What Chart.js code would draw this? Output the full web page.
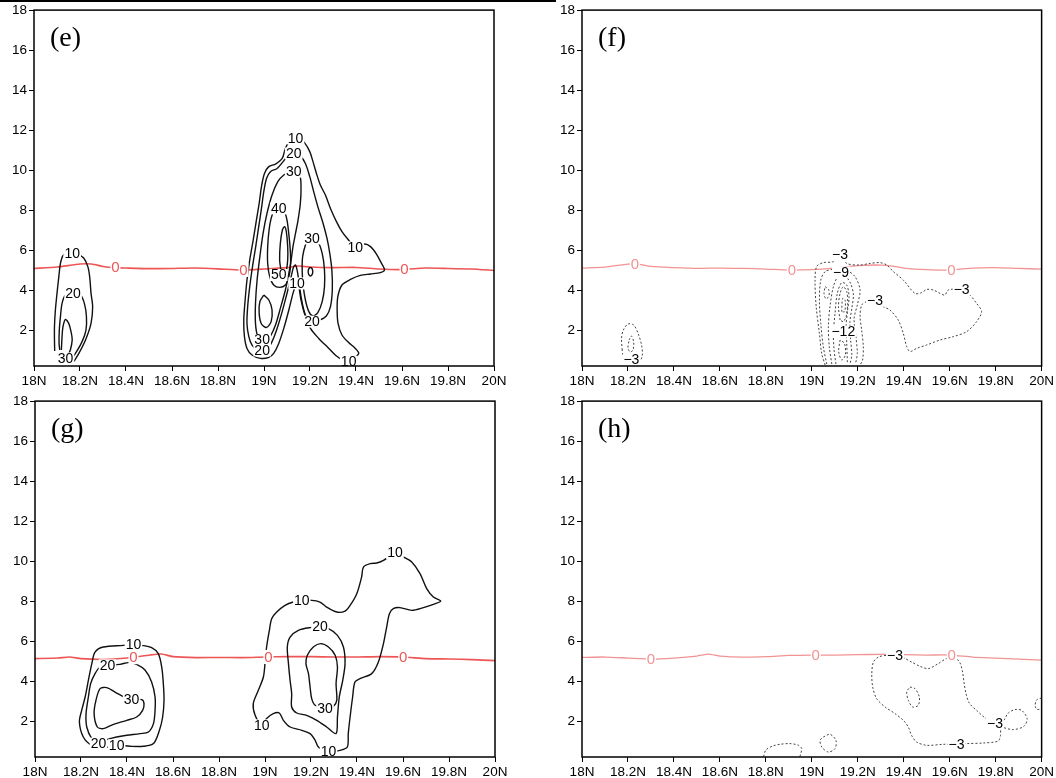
<!DOCTYPE html>
<html>
<head>
<meta charset="utf-8">
<script src="https://cdn.jsdelivr.net/npm/chart.js@4.4.1/dist/chart.umd.min.js"></script>
<style>
  html, body { margin: 0; padding: 0; background: #fff; width: 1056px; height: 778px; overflow: hidden; }
  .panel { position: absolute; }
  #topbar { position: absolute; left: 0; top: 0; width: 556px; height: 2px; background: #000; }
</style>
</head>
<body>
<div id="topbar"></div>
<div class="panel" style="left:0px;top:0px;"><canvas id="pe" width="520" height="400"></canvas></div>
<div class="panel" style="left:548px;top:0px;"><canvas id="pf" width="508" height="400"></canvas></div>
<div class="panel" style="left:1px;top:391px;"><canvas id="pg" width="520" height="387"></canvas></div>
<div class="panel" style="left:548px;top:391px;"><canvas id="ph" width="508" height="387"></canvas></div>
<script>
// ---------- axes ----------
const yTicks = [2, 4, 6, 8, 10, 12, 14, 16, 18];
const xTicks = [18, 18.2, 18.4, 18.6, 18.8, 19, 19.2, 19.4, 19.6, 19.8, 20];
const xTickLabels = ['18N', '18.2N', '18.4N', '18.6N', '18.8N', '19N', '19.2N', '19.4N', '19.6N', '19.8N', '20N'];
const heightRange = [0.2, 18];
const latRange = [18, 20];

// ---------- panel (e): positive contours (lat, height km) ----------
const eLeft10 = [[18.090,0.95],[18.089,1.5],[18.089,2.17],[18.093,3.0],[18.100,3.83],[18.108,4.67],[18.115,5.33],[18.126,5.72],[18.145,5.85],[18.166,5.83],[18.19,5.8],[18.216,5.6],[18.234,5.17],[18.242,4.67],[18.248,3.83],[18.255,3.17],[18.248,2.33],[18.224,1.5],[18.195,0.83],[18.173,0.42]];
const eLeft20 = [[18.112,1.0],[18.109,1.33],[18.11,2.0],[18.115,2.67],[18.122,3.33],[18.137,3.75],[18.17,3.83],[18.202,3.75],[18.219,3.33],[18.228,2.67],[18.226,2.0],[18.209,1.42],[18.18,0.83],[18.158,0.5]];
const eLeft30 = [[18.119,1.0],[18.122,1.67],[18.126,2.17],[18.137,2.53],[18.151,2.33],[18.161,1.92],[18.166,1.5],[18.158,1.0],[18.148,0.75]];
const eMain10 = [[19.390,0.58],[19.412,0.83],[19.397,1.08],[19.368,1.37],[19.339,1.75],[19.322,2.33],[19.318,3.0],[19.321,3.67],[19.339,4.25],[19.376,4.53],[19.419,4.73],[19.463,4.8],[19.506,4.87],[19.524,5.0],[19.509,5.37],[19.489,5.8],[19.463,6.17],[19.437,6.3],[19.397,6.13],[19.364,6.55],[19.339,6.92],[19.315,7.42],[19.289,8.08],[19.267,8.75],[19.245,9.25],[19.228,9.83],[19.213,10.42],[19.199,10.92],[19.176,11.37],[19.158,11.53],[19.137,11.58],[19.112,11.47],[19.093,11.08],[19.079,10.58],[19.050,10.3],[19.021,10.17],[19.002,9.83],[18.989,9.17],[18.979,8.33],[18.967,7.5],[18.953,6.5],[18.938,5.5],[18.926,4.5],[18.918,3.5],[18.912,2.5],[18.915,1.67],[18.926,1.08],[18.948,0.75],[18.984,0.58],[19.021,0.63],[19.042,0.83],[19.064,1.33],[19.086,2.08],[19.108,3.0],[19.126,3.83],[19.138,4.25],[19.144,4.33],[19.151,4.17],[19.161,3.5],[19.176,2.83],[19.202,2.08],[19.238,1.58],[19.282,1.08],[19.315,0.7],[19.347,0.47],[19.368,0.42],[19.390,0.58]];
const eMain20 = [[19.209,2.42],[19.242,2.5],[19.271,2.7],[19.289,3.17],[19.297,4.0],[19.295,5.0],[19.286,5.83],[19.274,6.58],[19.257,7.33],[19.234,8.17],[19.216,8.92],[19.199,9.67],[19.180,10.33],[19.158,10.7],[19.129,10.83],[19.103,10.7],[19.083,10.42],[19.057,10.08],[19.028,9.92],[19.011,9.58],[18.999,8.92],[18.989,8.08],[18.977,7.17],[18.964,6.17],[18.950,5.17],[18.938,4.17],[18.929,3.17],[18.926,2.33],[18.934,1.67],[18.948,1.25],[18.970,1.03],[18.992,1.0],[19.016,1.08],[19.035,1.42],[19.057,2.08],[19.079,2.92],[19.100,3.83],[19.118,4.67],[19.129,5.17],[19.137,5.25],[19.144,5.0],[19.153,4.33],[19.161,3.67],[19.173,3.0],[19.187,2.58],[19.209,2.42]];
const eMain30a = [[19.129,9.92],[19.155,9.75],[19.161,9.17],[19.158,8.33],[19.148,7.5],[19.137,6.83],[19.126,6.17],[19.118,5.5],[19.108,4.83],[19.093,4.0],[19.071,3.08],[19.050,2.25],[19.028,1.7],[19.011,1.53],[18.992,1.5],[18.973,1.67],[18.963,2.33],[18.963,3.33],[18.970,4.5],[18.982,5.67],[18.996,6.83],[19.013,7.83],[19.035,8.75],[19.060,9.42],[19.086,9.75],[19.108,9.87],[19.129,9.92]];
const eMain30b = [[19.209,6.58],[19.234,6.42],[19.253,5.83],[19.263,5.0],[19.263,4.17],[19.253,3.42],[19.234,2.87],[19.213,2.7],[19.195,2.92],[19.180,3.5],[19.170,4.25],[19.166,5.0],[19.168,5.67],[19.180,6.25],[19.190,6.47],[19.209,6.58]];
const eMain40a = [[19.064,8.08],[19.086,8.0],[19.100,7.5],[19.109,6.67],[19.115,5.83],[19.115,5.17],[19.108,4.67],[19.093,4.25],[19.068,4.13],[19.042,4.25],[19.025,4.67],[19.016,5.33],[19.016,6.17],[19.022,7.0],[19.031,7.58],[19.042,7.92],[19.064,8.08]];
const eMain40b = [[18.999,3.75],[19.021,3.5],[19.035,3.0],[19.031,2.42],[19.011,2.13],[18.989,2.3],[18.979,2.83],[18.982,3.42],[18.999,3.75]];
const eMain40c = [[19.202,5.14],[19.209,5.07],[19.212,4.92],[19.209,4.77],[19.202,4.70],[19.195,4.77],[19.192,4.92],[19.195,5.07],[19.202,5.14]];
const eMain50 = [[19.074,4.97],[19.068,5.5],[19.071,6.33],[19.080,7.0],[19.089,7.17],[19.097,6.92],[19.103,6.17],[19.103,5.5],[19.097,5.0],[19.086,4.83],[19.074,4.97]];
const eLabels = [[18.166,5.83,'10'],[18.17,3.83,'20'],[18.137,0.58,'30'],[19.137,11.58,'10'],[19.129,10.83,'20'],[19.129,9.92,'30'],[19.064,8.08,'40'],[19.064,4.75,'50'],[19.144,4.33,'10'],[19.209,6.58,'30'],[19.397,6.13,'10'],[18.992,1.5,'30'],[18.992,0.98,'20'],[19.209,2.42,'20'],[19.368,0.42,'10']];
const eZeroLine = [[18.0,5.08],[18.1,5.15],[18.2,5.3],[18.25,5.3],[18.3,5.18],[18.35,5.12],[18.4,5.1],[18.5,5.07],[18.6,5.08],[18.7,5.1],[18.8,5.06],[18.9,5.0],[19.0,5.05],[19.1,5.12],[19.15,5.2],[19.2,5.15],[19.3,5.12],[19.4,5.13],[19.5,5.05],[19.6,5.02],[19.7,5.1],[19.8,5.08],[19.9,5.05],[20.0,4.98]];
const eZeroLabels = [18.354, 18.911, 19.611];

// ---------- panel (f): negative contours ----------
const fLeft3 = [[18.175,1.0],[18.172,1.6],[18.18,2.0],[18.2,2.3],[18.225,2.25],[18.245,1.8],[18.26,1.2],[18.262,0.7],[18.25,0.45],[18.215,0.5],[18.19,0.5],[18.178,0.75],[18.175,1.0]];
const fLeft6 = [[18.205,1.5],[18.215,1.7],[18.225,1.4],[18.222,1.0],[18.21,0.9],[18.2,1.1],[18.205,1.5]];
const fMain3 = [[19.058,0.25],[19.043,0.83],[19.033,1.83],[19.019,3.17],[19.014,4.5],[19.021,5.17],[19.050,5.37],[19.094,5.42],[19.123,5.75],[19.152,5.33],[19.210,5.25],[19.253,5.33],[19.297,5.37],[19.326,5.25],[19.355,4.92],[19.398,4.5],[19.449,3.83],[19.478,3.87],[19.500,4.03],[19.529,4.0],[19.558,3.83],[19.579,3.75],[19.594,4.0],[19.652,4.03],[19.688,3.75],[19.717,3.33],[19.739,2.92],[19.717,2.42],[19.674,1.92],[19.616,1.67],[19.558,1.5],[19.500,1.25],[19.456,1.08],[19.427,0.92],[19.413,1.17],[19.398,1.83],[19.376,2.5],[19.340,3.0],[19.311,3.17],[19.275,3.47],[19.239,3.42],[19.217,3.25],[19.210,2.67],[19.217,2.0],[19.224,1.17],[19.221,0.5],[19.210,0.25]];
const fMain6 = [[19.065,0.3],[19.050,1.17],[19.039,2.33],[19.033,3.5],[19.039,4.5],[19.058,4.92],[19.094,5.03],[19.152,4.97],[19.188,4.67],[19.210,4.0],[19.198,3.25],[19.184,2.58],[19.192,1.67],[19.198,0.83],[19.190,0.3]];
const fMain9 = [[19.087,0.3],[19.076,1.17],[19.072,2.17],[19.079,3.17],[19.094,4.17],[19.116,4.7],[19.145,4.7],[19.169,4.33],[19.181,3.75],[19.174,3.08],[19.166,2.42],[19.169,1.5],[19.174,0.75],[19.166,0.3]];
const fMain12 = [[19.105,0.3],[19.097,1.0],[19.094,1.83],[19.101,2.83],[19.111,3.83],[19.130,4.37],[19.152,4.25],[19.162,3.67],[19.155,2.92],[19.149,2.17],[19.152,1.33],[19.155,0.3]];
const fMain15 = [[19.123,2.5],[19.116,3.17],[19.123,3.83],[19.137,4.17],[19.152,3.92],[19.156,3.33],[19.149,2.67],[19.137,2.42],[19.123,2.5]];
const fMain18 = [[19.13,2.92],[19.134,3.58],[19.145,3.5],[19.143,2.92],[19.13,2.92]];
const fLoopA = [[19.058,4.17],[19.074,4.0],[19.074,3.67],[19.061,3.57],[19.053,3.83],[19.058,4.17]];
const fLoopB = [[19.123,1.5],[19.117,0.92],[19.130,0.5],[19.146,0.75],[19.142,1.33],[19.123,1.5]];
const fLabels = [[19.123,5.75,'\u22123'],[19.127,4.88,'\u22129'],[19.275,3.47,'\u22123'],[19.652,4.03,'\u22123'],[19.137,1.92,'\u221212'],[18.215,0.5,'\u22123']];
const fZeroLine = [[18.0,5.1],[18.1,5.15],[18.2,5.3],[18.25,5.28],[18.3,5.18],[18.4,5.12],[18.5,5.08],[18.6,5.1],[18.7,5.08],[18.8,5.05],[18.9,5.0],[19.0,5.02],[19.1,5.1],[19.2,5.22],[19.3,5.25],[19.35,5.2],[19.4,5.1],[19.5,5.02],[19.6,5.0],[19.7,5.1],[19.8,5.12],[19.9,5.08],[20.0,5.05]];
const fZeroLabels = [18.23, 18.913, 19.608];

// ---------- panel (g): positive contours ----------
const gLeft10 = [[18.428,5.835],[18.464,5.785],[18.507,5.67],[18.536,5.37],[18.551,4.70],[18.558,3.87],[18.561,3.035],[18.555,2.2],[18.541,1.535],[18.515,0.87],[18.471,0.735],[18.413,0.735],[18.355,0.785],[18.305,0.67],[18.247,0.785],[18.210,1.20],[18.193,1.95],[18.203,2.535],[18.218,3.2],[18.232,4.035],[18.247,4.87],[18.261,5.45],[18.297,5.70],[18.384,5.785],[18.428,5.835]];
const gLeft20 = [[18.315,4.785],[18.370,4.835],[18.406,4.92],[18.442,4.835],[18.479,4.535],[18.507,3.95],[18.522,3.2],[18.522,2.535],[18.515,1.87],[18.493,1.45],[18.457,1.37],[18.399,1.285],[18.355,1.20],[18.312,1.07],[18.276,0.87],[18.247,1.12],[18.225,1.70],[18.222,2.37],[18.232,3.2],[18.242,3.87],[18.261,4.37],[18.283,4.70],[18.315,4.785]];
const gLeft30 = [[18.42,3.07],[18.392,3.17],[18.355,3.4],[18.312,3.67],[18.283,3.62],[18.265,3.035],[18.257,2.37],[18.271,1.70],[18.297,1.62],[18.341,1.835],[18.399,2.035],[18.442,2.2],[18.468,2.535],[18.474,2.87],[18.464,3.07],[18.42,3.07]];
const gRight10 = [[19.565,10.40],[19.602,10.20],[19.638,9.95],[19.674,9.37],[19.703,8.62],[19.732,8.2],[19.764,8.0],[19.732,7.835],[19.689,7.67],[19.638,7.535],[19.587,7.67],[19.558,7.62],[19.541,7.37],[19.529,6.70],[19.515,5.87],[19.493,4.95],[19.464,4.37],[19.413,4.12],[19.391,3.95],[19.381,3.2],[19.370,2.2],[19.362,1.37],[19.358,0.70],[19.326,0.535],[19.276,0.45],[19.232,0.70],[19.218,1.035],[19.196,1.37],[19.160,1.535],[19.109,1.70],[19.080,2.035],[19.062,2.4],[19.036,2.37],[19.007,2.12],[18.986,1.785],[18.957,2.285],[18.949,2.87],[18.971,3.535],[18.993,4.2],[19.0,4.87],[19.007,5.70],[19.019,6.535],[19.029,7.12],[19.051,7.45],[19.087,7.785],[19.123,7.95],[19.16,8.0],[19.203,8.035],[19.239,7.95],[19.268,7.70],[19.312,7.45],[19.348,7.5],[19.370,7.785],[19.399,8.37],[19.420,9.2],[19.428,9.70],[19.457,9.87],[19.486,9.9],[19.515,10.035],[19.565,10.40]];
const gRight20 = [[19.239,6.70],[19.276,6.62],[19.315,6.285],[19.341,5.70],[19.348,4.87],[19.338,4.035],[19.323,3.2],[19.315,2.2],[19.309,1.37],[19.268,1.70],[19.225,2.035],[19.181,2.285],[19.138,2.4],[19.116,2.70],[19.116,3.37],[19.109,4.035],[19.102,4.87],[19.097,5.70],[19.109,6.2],[19.145,6.535],[19.196,6.67],[19.239,6.70]];
const gRight30 = [[19.261,2.62],[19.297,2.735],[19.312,3.035],[19.309,3.87],[19.315,4.70],[19.305,5.285],[19.276,5.70],[19.242,5.87],[19.210,5.70],[19.184,5.285],[19.178,4.87],[19.189,4.37],[19.196,3.70],[19.203,3.12],[19.218,2.785],[19.261,2.62]];
const gLabels = [[18.428,5.835,'10'],[18.315,4.785,'20'],[18.42,3.07,'30'],[18.276,0.87,'20'],[18.355,0.785,'10'],[19.565,10.40,'10'],[19.16,8.0,'10'],[19.239,6.70,'20'],[19.261,2.62,'30'],[18.986,1.785,'10'],[19.276,0.45,'10']];
const gZeroLine = [[18.0,5.12],[18.1,5.15],[18.15,5.2],[18.2,5.12],[18.3,5.08],[18.4,5.15],[18.5,5.3],[18.55,5.35],[18.6,5.22],[18.7,5.17],[18.8,5.18],[18.9,5.17],[19.0,5.2],[19.1,5.22],[19.2,5.22],[19.3,5.2],[19.4,5.2],[19.5,5.22],[19.6,5.2],[19.7,5.12],[19.8,5.1],[19.9,5.07],[20.0,5.02]];
const gZeroLabels = [18.428, 19.015, 19.601];

// ---------- panel (h): negative contours ----------
const hMain3 = [[19.362,5.285],[19.398,5.17],[19.434,4.95],[19.471,4.735],[19.507,4.62],[19.550,4.87],[19.587,5.12],[19.627,5.12],[19.645,4.9],[19.656,4.45],[19.662,3.95],[19.671,3.37],[19.685,2.9],[19.717,2.535],[19.749,2.2],[19.797,1.87],[19.819,1.62],[19.821,1.285],[19.811,1.0],[19.746,0.9],[19.674,0.87],[19.630,0.835],[19.572,0.835],[19.500,0.785],[19.456,0.95],[19.434,1.285],[19.420,1.70],[19.398,2.035],[19.362,2.37],[19.319,2.7],[19.282,3.12],[19.265,3.7],[19.261,4.37],[19.268,4.95],[19.290,5.2],[19.326,5.285],[19.362,5.285]];
const hLoopRight = [[19.836,2.035],[19.855,2.4],[19.884,2.57],[19.913,2.535],[19.937,2.12],[19.923,1.735],[19.877,1.57],[19.833,1.67]];
const hLoopInner = [[19.427,3.7],[19.449,3.62],[19.468,3.2],[19.463,2.785],[19.439,2.7],[19.420,3.035],[19.413,3.45],[19.427,3.7]];
const hLoopLow = [[19.050,1.2],[19.079,1.335],[19.105,1.035],[19.101,0.62],[19.072,0.45],[19.043,0.7],[19.036,1.035],[19.050,1.2]];
const hLoopWest = [[18.79,0.22],[18.80,0.55],[18.83,0.75],[18.862,0.835],[18.905,0.87],[18.942,0.785],[18.956,0.62],[18.952,0.37],[18.948,0.22]];
const hLoopEdge = [[20.0,3.15],[19.978,3.05],[19.972,2.75],[19.98,2.58],[20.0,2.6]];
const hLabels = [[19.362,5.285,'\u22123'],[19.797,1.87,'\u22123'],[19.630,0.835,'\u22123']];
const hZeroLine = [[18.0,5.18],[18.1,5.2],[18.2,5.15],[18.3,5.1],[18.4,5.15],[18.5,5.25],[18.55,5.35],[18.6,5.25],[18.7,5.2],[18.8,5.22],[18.9,5.28],[19.0,5.3],[19.1,5.3],[19.2,5.32],[19.3,5.33],[19.4,5.32],[19.5,5.3],[19.6,5.3],[19.7,5.2],[19.8,5.15],[19.9,5.1],[20.0,5.05]];
const hZeroLabels = [18.30, 19.017, 19.609];

// ---------- drawing helpers ----------
const SANS = '"Liberation Sans", Arial, Helvetica, sans-serif';
const SERIF = '"Liberation Serif", "Times New Roman", serif';

function solid(points) {
  return { data: points.map(p => ({ x: p[0], y: p[1] })), showLine: true, pointRadius: 0,
           borderColor: '#111', borderWidth: 1.4, tension: 0.3, fill: false };
}
function dotted(points) {
  return { data: points.map(p => ({ x: p[0], y: p[1] })), showLine: true, pointRadius: 0,
           borderColor: '#444', borderWidth: 1, borderDash: [2, 2], tension: 0.3, fill: false };
}
function zeroIsotherm(points, color, width) {
  return { data: points.map(p => ({ x: p[0], y: p[1] })), showLine: true, pointRadius: 0,
           borderColor: color, borderWidth: width, tension: 0.2, fill: false };
}
function heightOnLine(line, lat) {
  for (let i = 1; i < line.length; i++) {
    if (lat <= line[i][0]) {
      const t = (lat - line[i - 1][0]) / (line[i][0] - line[i - 1][0]);
      return line[i - 1][1] + t * (line[i][1] - line[i - 1][1]);
    }
  }
  return line[line.length - 1][1];
}

function overlay(title, labels, zeroLine, zeroLabels, zeroColor) {
  return {
    id: 'overlay',
    afterDatasetsDraw(chart) {
      const { ctx, chartArea: a, scales: { x, y } } = chart;
      ctx.save();
      ctx.beginPath();
      ctx.rect(a.left, a.top, a.right - a.left, a.bottom - a.top);
      ctx.clip();
      ctx.textAlign = 'center';
      ctx.textBaseline = 'middle';
      // contour value labels
      ctx.font = '14px ' + SANS;
      labels.forEach(([lat, h, t]) => {
        const px = x.getPixelForValue(lat), py = y.getPixelForValue(h);
        const w = ctx.measureText(t).width + 2;
        ctx.fillStyle = '#fff';
        ctx.fillRect(px - w / 2, py - 6, w, 12);
        ctx.fillStyle = '#000';
        ctx.fillText(t, px, py + 0.5);
      });
      // 0 degree isotherm labels
      ctx.font = '15px ' + SANS;
      zeroLabels.forEach(lat => {
        const px = x.getPixelForValue(lat), py = y.getPixelForValue(heightOnLine(zeroLine, lat));
        ctx.fillStyle = '#fff';
        ctx.fillRect(px - 5, py - 7, 10, 14);
        ctx.fillStyle = zeroColor;
        ctx.fillText('0', px, py + 0.5);
      });
      ctx.restore();
      // frame
      ctx.save();
      ctx.strokeStyle = '#000';
      ctx.lineWidth = 1.5;
      ctx.strokeRect(a.left, a.top, a.right - a.left, a.bottom - a.top);
      // panel tag
      ctx.font = '28px ' + SERIF;
      ctx.fillStyle = '#000';
      ctx.textAlign = 'left';
      ctx.textBaseline = 'alphabetic';
      ctx.fillText(title, a.left + 16, a.top + 36);
      ctx.restore();
    }
  };
}

function makePanel(id, title, datasets, labels, zeroLine, zeroLabels, zeroColor, zeroWidth, padRight, xHeight) {
  const all = datasets.concat([zeroIsotherm(zeroLine, zeroColor, zeroWidth)]);
  return new Chart(document.getElementById(id), {
    type: 'scatter',
    data: { datasets: all },
    options: {
      responsive: false,
      animation: false,
      events: [],
      layout: { padding: { top: 10, right: padRight, bottom: 0, left: 0 } },
      plugins: { legend: { display: false }, tooltip: { enabled: false } },
      scales: {
        x: {
          type: 'linear', min: latRange[0], max: latRange[1],
          border: { display: false },
          grid: { display: true, drawOnChartArea: false, drawTicks: true, tickLength: 5, color: '#000', lineWidth: 1 },
          afterBuildTicks: s => { s.ticks = xTicks.map(v => ({ value: v })); },
          afterFit: s => { s.height = xHeight; },
          ticks: { autoSkip: false, maxRotation: 0, padding: 2, color: '#000',
                   font: { family: SANS, size: 13.5 },
                   callback: (v, i) => xTickLabels[i] }
        },
        y: {
          type: 'linear', min: heightRange[0], max: heightRange[1],
          border: { display: false },
          grid: { display: true, drawOnChartArea: false, drawTicks: true, tickLength: 5, color: '#000', lineWidth: 1 },
          afterBuildTicks: s => { s.ticks = yTicks.map(v => ({ value: v })); },
          afterFit: s => { s.width = 34; },
          ticks: { autoSkip: false, padding: 2, color: '#000',
                   font: { family: SANS, size: 13.5 },
                   callback: v => String(v) }
        }
      }
    },
    plugins: [overlay(title, labels, zeroLine, zeroLabels, zeroColor)]
  });
}

const RED = '#ee5656';
const PINK = '#f29393';

makePanel('pe', '(e)',
  [eLeft10, eLeft20, eLeft30, eMain10, eMain20, eMain30a, eMain30b, eMain40a, eMain40b, eMain40c, eMain50].map(solid),
  eLabels, eZeroLine, eZeroLabels, RED, 1.6, 26, 34);

makePanel('pf', '(f)',
  [fLeft3, fLeft6, fMain3, fMain6, fMain9, fMain12, fMain15, fMain18, fLoopA, fLoopB].map(dotted),
  fLabels, fZeroLine, fZeroLabels, PINK, 1.3, 14, 34);

makePanel('pg', '(g)',
  [gLeft10, gLeft20, gLeft30, gRight10, gRight20, gRight30].map(solid),
  gLabels, gZeroLine, gZeroLabels, RED, 1.6, 26, 21);

makePanel('ph', '(h)',
  [hMain3, hLoopRight, hLoopInner, hLoopLow, hLoopWest, hLoopEdge].map(dotted),
  hLabels, hZeroLine, hZeroLabels, PINK, 1.3, 14, 21);
</script>
</body>
</html>
